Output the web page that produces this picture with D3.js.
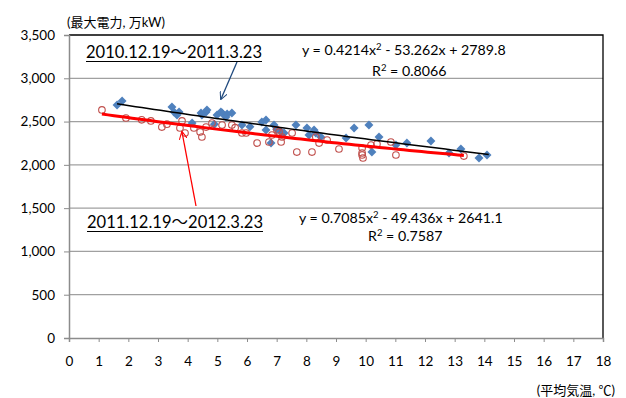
<!DOCTYPE html>
<html>
<head>
<meta charset="utf-8">
<script src="https://cdn.jsdelivr.net/npm/d3@7"></script>
<style>
  body { margin: 0; background: #fff; }
  text { font-family: Lato, "Noto Sans CJK JP", sans-serif; fill: #000; }
</style>
</head>
<body>
<div id="chart"></div>
<script>
// ---- data ----
// 2010.12.19 - 2011.3.23 : [mean temperature, peak demand]
const seriesA = [
  [1.62, 2691], [1.79, 2738], [3.47, 2668], [3.54, 2611], [3.71, 2611], [3.64, 2576],
  [4.15, 2483], [4.45, 2599], [4.62, 2611], [4.48, 2576], [4.65, 2634], [4.99, 2576],
  [5.16, 2599], [5.33, 2587], [5.49, 2599], [5.29, 2553], [5.12, 2611], [4.90, 2470],
  [5.83, 2460], [6.50, 2495], [6.64, 2518], [6.64, 2403], [6.91, 2460], [6.81, 2252],
  [7.15, 2380], [7.25, 2368], [7.65, 2460], [8.02, 2426], [8.26, 2403], [8.32, 2368],
  [8.09, 2345], [8.49, 2322], [9.34, 2310], [9.61, 2426], [10.11, 2460], [10.45, 2322],
  [10.21, 2148], [11.02, 2229], [11.39, 2252], [12.20, 2276], [13.21, 2183], [12.81, 2137],
  [13.82, 2079], [14.09, 2114], [6.10, 2440], [7.00, 2410]
];
// 2011.12.19 - 2012.3.23
const seriesB = [
  [1.11, 2634], [1.92, 2541], [2.76, 2507], [3.13, 2437], [3.74, 2426], [3.81, 2507],
  [3.91, 2368], [4.21, 2426], [4.42, 2380], [4.48, 2322], [4.62, 2437], [4.82, 2483],
  [5.16, 2460], [5.49, 2460], [5.83, 2368], [5.97, 2368], [6.34, 2252], [6.74, 2264],
  [6.84, 2345], [7.01, 2403], [7.08, 2380], [7.15, 2264], [7.18, 2322], [7.52, 2368],
  [7.68, 2148], [8.19, 2148], [8.32, 2322], [8.43, 2252], [8.70, 2287], [9.10, 2183],
  [9.88, 2195], [9.88, 2137], [9.88, 2114], [9.91, 2079], [10.18, 2229], [10.38, 2241],
  [10.85, 2264], [11.02, 2114], [13.31, 2102], [2.45, 2520], [3.30, 2470], [5.60, 2430]
];
// quadratic trend coefficients [a, b, c] and x range
const trendA = [0.4214, -53.262, 2789.8];
const trendB = [0.7085, -49.436, 2641.1];
const trendRangeA = [1.62, 14.15];
const trendRangeB = [1.11, 13.31];

const periodLabels = ['2010.12.19〜2011.3.23', '2011.12.19〜2012.3.23'];
const eqnA = ['0.4214', '53.262', '2789.8', '0.8066'];
const eqnB = ['0.7085', '49.436', '2641.1', '0.7587'];
const xTicks = d3.range(0, 19, 1);
const yTicks = d3.range(0, 3501, 500);
const yTitle = '(最大電力, 万kW)';
const xTitle = '(平均気温, ℃)';

// ---- layout ----
const W = 626, H = 398;
const mLeft = 69, mRight = 603, mTop = 35, mBottom = 338;

const svg = d3.select('#chart').append('svg')
  .attr('width', W).attr('height', H);

const x = d3.scaleLinear().domain([0, 18]).range([mLeft, mRight]);
const y = d3.scaleLinear().domain([0, 3500]).range([mBottom, mTop]);

// gridlines
svg.append('g').selectAll('line').data(yTicks.slice(1, -1)).join('line')
  .attr('x1', mLeft).attr('x2', mRight)
  .attr('y1', d => y(d)).attr('y2', d => y(d))
  .attr('stroke', '#a0a0a0').attr('stroke-width', 1.3);

// plot area frame (top, right)
svg.append('path')
  .attr('d', `M${mLeft},${mTop}H${mRight}V${mBottom}`)
  .attr('fill', 'none').attr('stroke', '#000').attr('stroke-width', 1.3);

// axes
const xAxis = svg.append('g').attr('transform', `translate(0,${mBottom})`)
  .call(d3.axisBottom(x).tickValues(xTicks).tickSizeOuter(0).tickSize(4).tickPadding(14));
const yAxis = svg.append('g').attr('transform', `translate(${mLeft},0)`)
  .call(d3.axisLeft(y).tickValues(yTicks).tickSizeOuter(0).tickSize(5).tickPadding(9)
    .tickFormat(d3.format(',')));
[xAxis, yAxis].forEach(a => {
  a.select('.domain').attr('stroke', '#8c8c8c').attr('stroke-width', 1.5);
  a.selectAll('.tick line').attr('stroke', '#8c8c8c');
  a.selectAll('text').attr('font-size', 13.5).attr('fill', '#000')
    .style('font-family', 'Lato, sans-serif');
});

// trend lines
function trendPts(c, r) {
  return d3.range(r[0], r[1] + 0.001, (r[1] - r[0]) / 60)
    .map(t => [t, c[0] * t * t + c[1] * t + c[2]]);
}
const line = d3.line().x(d => x(d[0])).y(d => y(d[1]));

// markers: rotated squares for the 2010-11 season, open circles for 2011-12
svg.append('g').selectAll('path').data(seriesA).join('path')
  .attr('d', d3.symbol().type(d3.symbolSquare).size(40))
  .attr('transform', d => `translate(${x(d[0])},${y(d[1])}) rotate(45)`)
  .attr('fill', '#4f81bd');

svg.append('g').selectAll('circle').data(seriesB).join('circle')
  .attr('cx', d => x(d[0])).attr('cy', d => y(d[1])).attr('r', 3.3)
  .attr('fill', 'none').attr('stroke', '#c0504d').attr('stroke-width', 1.1);

svg.append('path').datum(trendPts(trendA, trendRangeA)).attr('d', line)
  .attr('fill', 'none').attr('stroke', '#000').attr('stroke-width', 1.5);
svg.append('path').datum(trendPts(trendB, trendRangeB)).attr('d', line)
  .attr('fill', 'none').attr('stroke', '#ff0000').attr('stroke-width', 3);

// arrows
const defs = svg.append('defs');
function arrowHead(id, col) {
  defs.append('marker').attr('id', id).attr('viewBox', '0 0 10 10')
    .attr('refX', 9).attr('refY', 5).attr('markerWidth', 8).attr('markerHeight', 8)
    .attr('orient', 'auto-start-reverse').attr('markerUnits', 'userSpaceOnUse')
    .append('path').attr('d', 'M0,0L10,5L0,10').attr('fill', 'none')
    .attr('stroke', col).attr('stroke-width', 1.3);
}
arrowHead('arrBlue', '#1f497d');
arrowHead('arrRed', '#ff0000');
svg.append('line').attr('x1', 237).attr('y1', 62).attr('x2', 221).attr('y2', 99)
  .attr('stroke', '#1f497d').attr('stroke-width', 1.3).attr('marker-end', 'url(#arrBlue)');
svg.append('line').attr('x1', 196).attr('y1', 206).attr('x2', 182).attr('y2', 132)
  .attr('stroke', '#ff0000').attr('stroke-width', 1.3).attr('marker-end', 'url(#arrRed)');

// period labels
function periodLabel(txt, px, py) {
  svg.append('text').attr('x', px).attr('y', py)
    .attr('font-size', 16.5).attr('textLength', 176).attr('lengthAdjust', 'spacingAndGlyphs')
    .text(txt);
  svg.append('line').attr('x1', px).attr('x2', px + 176)
    .attr('y1', py + 3.5).attr('y2', py + 3.5)
    .attr('stroke', '#000').attr('stroke-width', 1.2);
}
periodLabel(periodLabels[0], 86, 58);
periodLabel(periodLabels[1], 87, 228);

// equations
function equation(e, px, py, rx, ry) {
  const t = svg.append('text').attr('x', px).attr('y', py).attr('font-size', 14.2);
  t.append('tspan').text('y = ' + e[0] + 'x');
  t.append('tspan').attr('dy', -5).attr('font-size', 9.5).text('2');
  t.append('tspan').attr('dy', 5).text(' - ' + e[1] + 'x + ' + e[2]);
  const r = svg.append('text').attr('x', rx).attr('y', ry).attr('font-size', 14.2);
  r.append('tspan').text('R');
  r.append('tspan').attr('dy', -5).attr('font-size', 9.5).text('2');
  r.append('tspan').attr('dy', 5).text(' = ' + e[3]);
}
equation(eqnA, 302, 55, 372, 76);
equation(eqnB, 299, 223, 368, 241);

// axis titles
svg.append('text').attr('x', 67).attr('y', 27).attr('font-size', 13).text(yTitle);
svg.append('text').attr('x', 615).attr('y', 395).attr('font-size', 13)
  .attr('text-anchor', 'end').text(xTitle);
</script>
</body>
</html>
